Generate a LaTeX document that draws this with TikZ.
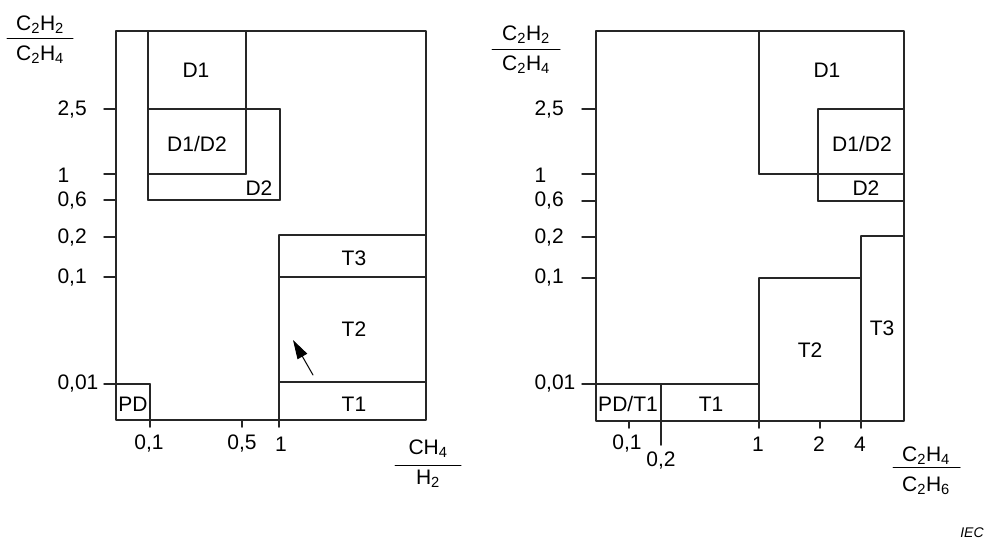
\documentclass[tikz,border=0pt]{standalone}
\usepackage{fontspec}
\setmainfont{Liberation Sans}
\usetikzlibrary{arrows.meta}

\begin{document}
\begin{tikzpicture}[line cap=round,line join=round,>={Triangle[length=19pt,width=11pt]},x=1pt,y=-1pt,
  every node/.style={font=\fontsize{21}{24}\selectfont},
  ln/.style={line width=1.5pt,black!85}]
\useasboundingbox (0,0) rectangle (991,542);

% left chart : CH4/H2
\draw [ln] (116,31) rectangle (426,420);
\draw [ln] (104,109)-- (116,109);
\draw [ln] (104,174)-- (116,174);
\draw [ln] (104,200)-- (116,200);
\draw [ln] (104,237)-- (116,237);
\draw [ln] (104,277)-- (116,277);
\draw [ln] (242,420)-- (242,427);
% D zones
\draw [ln] (148,31)-- (148,200);
\draw [ln] (246,31)-- (246,174);
\draw [ln] (148,109)-- (280,109);
\draw [ln] (280,109)-- (280,200);
\draw [ln] (148,174)-- (246,174);
\draw [ln] (148,200)-- (280,200);
% T zones
\draw [ln] (279,235)-- (279,427);
\draw [ln] (279,235)-- (426,235);
\draw [ln] (279,277)-- (426,277);
\draw [ln] (279,382)-- (426,382);
% PD
\draw [ln] (104,384)-- (150,384);
\draw [ln] (150,384)-- (150,427);
\coordinate (arrS) at (313,375);
\coordinate (arrE) at (293,340);
\draw [->,line width=1pt] (arrS)-- (arrE);

\node (ld1) at (196,70) {D1};
\node (ld12) at (197,144) {D1/D2};
\node (ld2) at (259,188) {D2};
\node (lt3) at (354,258) {T3};
\node (lt2) at (354,329) {T2};
\node (lt1) at (354,404) {T1};
\node (lpd) at (133,404) {PD};

\node[anchor=west] (ly25) at (54,110) {2,5};
\node[anchor=west] (ly1) at (54,175) {1};
\node[anchor=west] (ly06) at (54,201) {0,6};
\node[anchor=west] (ly02) at (54,238) {0,2};
\node[anchor=west] (ly01) at (54,278) {0,1};
\node[anchor=west] (ly001) at (54,384) {0,01};
\node (lx01) at (149,444) {0,1};
\node (lx05) at (242,444) {0,5};
\node (lx1) at (281,444) {1};

\node (lyn) at (40,25) {C\textsubscript{2}H\textsubscript{2}};
\node (lyd) at (40,55) {C\textsubscript{2}H\textsubscript{4}};
\draw [line width=1pt] (7,38)-- (73,38);
\node (lxn) at (428,449) {CH\textsubscript{4}};
\node (lxd) at (428,479) {H\textsubscript{2}};
\draw [line width=1pt] (395,465)-- (461,465);

% right chart : C2H4/C2H6
\draw [ln] (596,31) rectangle (904,421);
\draw [ln] (582,109)-- (596,109);
\draw [ln] (582,174)-- (596,174);
\draw [ln] (582,201)-- (596,201);
\draw [ln] (582,237)-- (596,237);
\draw [ln] (582,278)-- (596,278);
\draw [ln] (629,421)-- (629,428);
\draw [ln] (820,421)-- (820,428);
% D zones
\draw [ln] (759,31)-- (759,174);
\draw [ln] (759,174)-- (904,174);
\draw [ln] (818,109)-- (818,201);
\draw [ln] (818,109)-- (904,109);
\draw [ln] (818,201)-- (904,201);
% T zones
\draw [ln] (861,236)-- (861,428);
\draw [ln] (861,236)-- (904,236);
\draw [ln] (759,278)-- (759,428);
\draw [ln] (759,278)-- (861,278);
\draw [ln] (582,384)-- (759,384);
\draw [ln] (661,384)-- (661,445);

\node (rd1) at (827,70) {D1};
\node (rd12) at (862,144) {D1/D2};
\node (rd2) at (866,188) {D2};
\node (rt3) at (882,328) {T3};
\node (rt2) at (810,350) {T2};
\node (rt1) at (711,404) {T1};
\node (rpd) at (628,404) {PD/T1};

\node[anchor=west] (ry25) at (531,110) {2,5};
\node[anchor=west] (ry1) at (531,175) {1};
\node[anchor=west] (ry06) at (531,201) {0,6};
\node[anchor=west] (ry02) at (531,238) {0,2};
\node[anchor=west] (ry01) at (531,278) {0,1};
\node[anchor=west] (ry001) at (531,384) {0,01};
\node (rx01) at (627,444) {0,1};
\node (rx02) at (661,461) {0,2};
\node (rx1) at (758,444) {1};
\node (rx2) at (819,444) {2};
\node (rx4) at (860,444) {4};

\node (ryn) at (526,35) {C\textsubscript{2}H\textsubscript{2}};
\node (ryd) at (526,65) {C\textsubscript{2}H\textsubscript{4}};
\draw [line width=1pt] (492,49)-- (560,49);
\node (rxn) at (926,456) {C\textsubscript{2}H\textsubscript{4}};
\node (rxd) at (926,486) {C\textsubscript{2}H\textsubscript{6}};
\draw [line width=1pt] (893,467)-- (960,467);

\node (iec) at (972,533) {\fontsize{14}{16}\selectfont\itshape IEC};
\end{tikzpicture}
\end{document}
